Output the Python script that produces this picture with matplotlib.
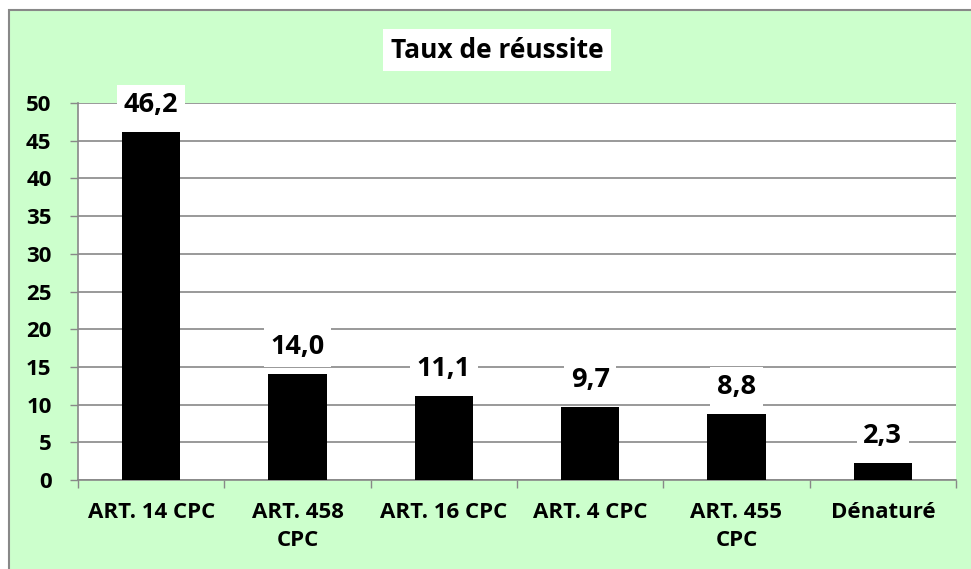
import numpy as np
import matplotlib
matplotlib.use("Agg")
from matplotlib import pyplot as plt
from matplotlib.patches import Rectangle

categories = ["ART. 14 CPC", "ART. 458\nCPC", "ART. 16 CPC", "ART. 4 CPC", "ART. 455\nCPC", "Dénaturé"]
values = [46.2, 14.0, 11.1, 9.7, 8.8, 2.3]
y_ticks = [0, 5, 10, 15, 20, 25, 30, 35, 40, 45, 50]
title = "Taux de réussite"

plt.rcParams['font.family'] = ['Open Sans', 'DejaVu Sans']
plt.rcParams['font.weight'] = 'bold'

W, H = 971, 569
fig = plt.figure(figsize=(W / 100, H / 100), dpi=100)
fig.patch.set_facecolor('white')

# green chart area with grey border
fig.patches.append(Rectangle((8.5 / W, -0.1), 1.2, (H - 10) / H + 0.1, transform=fig.transFigure,
                             facecolor='#ccffcc', edgecolor='#888888', linewidth=1.5, zorder=-5))

ax = fig.add_axes([78 / W, (H - 480) / H, (956 - 78) / W, (480 - 103) / H])
ax.set_facecolor('white')

x = np.arange(len(values))
ax.bar(x, values, width=0.4, color='black', zorder=3)

for xi, v in zip(x, values):
    ax.annotate(f"{v:.1f}".replace('.', ','), (xi, v), xytext=(0, 14), textcoords='offset pixels',
                ha='center', va='bottom', fontsize=19.5, fontweight='bold', zorder=5,
                bbox=dict(boxstyle='square,pad=0.25', facecolor='white', edgecolor='none'))

ax.set_xlim(-0.5, len(values) - 0.5)
ax.set_ylim(0, 50)
ax.set_yticks(y_ticks)
ax.set_yticklabels([str(t) for t in y_ticks], fontsize=16, fontweight='bold')
ax.tick_params(axis='y', length=6, width=1, color='#888888', pad=13)

ax.set_xticks(np.arange(-0.5, len(values)), labels=[])
ax.set_xticks(x, minor=True)
ax.set_xticklabels(categories, minor=True, fontsize=16, fontweight='bold', linespacing=1.45)
ax.tick_params(axis='x', which='major', length=6, width=1, color='#888888')
ax.tick_params(axis='x', which='minor', length=0, pad=16)

ax.grid(True, axis='y', color='#888888', linewidth=1.2, zorder=0)
ax.set_axisbelow(True)
for s in ['top', 'right']:
    ax.spines[s].set_visible(False)
for s in ['left', 'bottom']:
    ax.spines[s].set_color('#888888')
    ax.spines[s].set_linewidth(1.2)

fig.text(497 / W, 1 - 50 / H, title, ha='center', va='center', fontsize=19, fontweight='bold',
         bbox=dict(boxstyle='square,pad=0.3', facecolor='white', edgecolor='none'))

fig.savefig('out.png', dpi=100)
